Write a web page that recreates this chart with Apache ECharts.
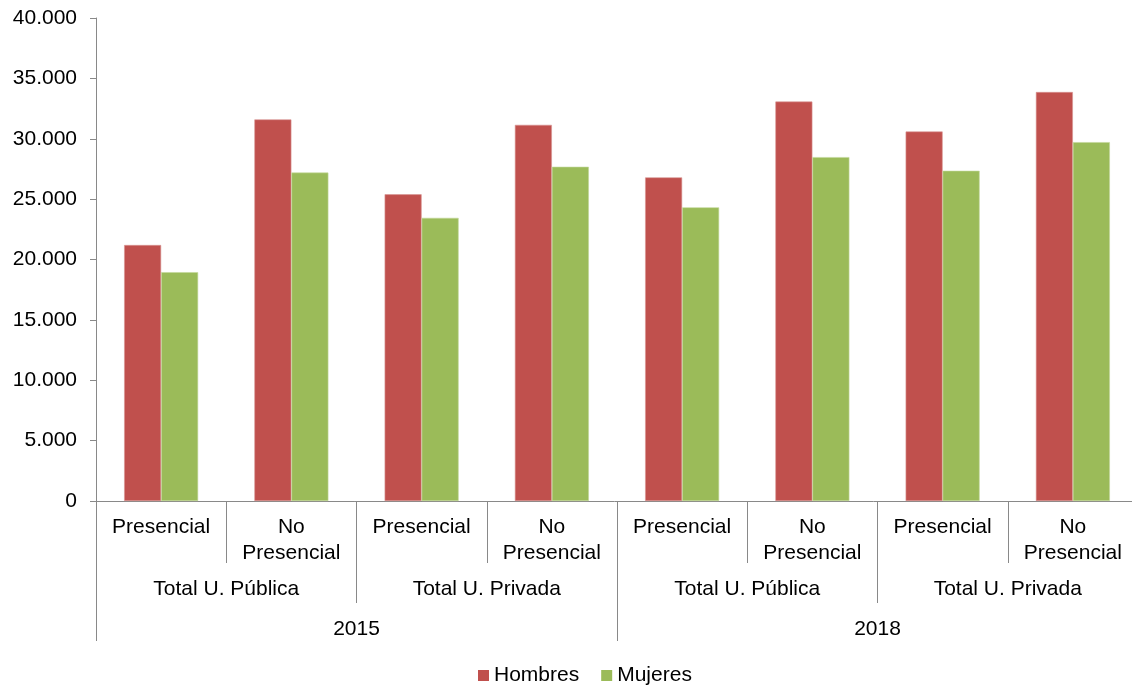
<!DOCTYPE html>
<html>
<head>
<meta charset="utf-8">
<script src="https://cdn.jsdelivr.net/npm/echarts@6/dist/echarts.min.js"></script>
<style>
html,body{margin:0;padding:0;background:#fff;}
#chart{width:1132px;height:687px;}
</style>
</head>
<body>
<div id="chart"></div>
<script>
// Data
const modalidades = ['Presencial', 'No\nPresencial', 'Presencial', 'No\nPresencial', 'Presencial', 'No\nPresencial', 'Presencial', 'No\nPresencial'];
const tiposUniversidad = ['Total U. Pública', 'Total U. Privada', 'Total U. Pública', 'Total U. Privada'];
const anios = ['2015', '2018'];
const hombres = [21200, 31600, 25400, 31150, 26800, 33080, 30600, 33870];
const mujeres = [18950, 27200, 23450, 27680, 24320, 28480, 27350, 29720];

const FONT = '"Liberation Sans", Arial, sans-serif';
const AXIS_COLOR = '#898989';
const FS = 21;
const fmt = v => String(v).replace(/\B(?=(\d{3})+(?!\d))/g, '.');

const chart = echarts.init(document.getElementById('chart'), null, {renderer: 'canvas'});
chart.setOption({
  animation: false,
  textStyle: {fontFamily: FONT},
  grid: {left: 96, top: 18, right: -6, bottom: 186, containLabel: false, outerBoundsMode: 'none'},
  legend: {
    data: ['Hombres', 'Mujeres'],
    left: 478,
    top: 665,
    padding: 0,
    icon: 'rect',
    itemWidth: 11,
    itemHeight: 11,
    itemGap: 22,
    itemStyle: {borderWidth: 0},
    textStyle: {fontSize: FS, lineHeight: 21, color: '#000', fontFamily: FONT}
  },
  xAxis: [
    {
      type: 'category', gridIndex: 0, position: 'bottom', data: modalidades,
      axisLine: {show: true, lineStyle: {color: AXIS_COLOR, width: 1}},
      axisTick: {show: true, length: 62, interval: 0, lineStyle: {color: AXIS_COLOR}},
      axisLabel: {interval: 0, margin: 13, fontSize: FS, lineHeight: 26, color: '#000', fontFamily: FONT, align: 'center'}
    },
    {
      type: 'category', gridIndex: 0, position: 'bottom', offset: 62, data: tiposUniversidad,
      axisLine: {show: false},
      axisTick: {show: true, length: 40, interval: 0, lineStyle: {color: AXIS_COLOR}},
      axisLabel: {interval: 0, margin: 15, fontSize: FS, lineHeight: 23, color: '#000', fontFamily: FONT}
    },
    {
      type: 'category', gridIndex: 0, position: 'bottom', offset: 102, data: anios,
      axisLine: {show: false},
      axisTick: {show: true, length: 38, interval: 0, lineStyle: {color: AXIS_COLOR}},
      axisLabel: {interval: 0, margin: 15, fontSize: FS, lineHeight: 23, color: '#000', fontFamily: FONT}
    }
  ],
  yAxis: {
    type: 'value', min: 0, max: 40000, interval: 5000,
    axisLine: {show: true, lineStyle: {color: AXIS_COLOR, width: 1}},
    axisTick: {show: true, length: 6, lineStyle: {color: AXIS_COLOR}},
    splitLine: {show: false},
    axisLabel: {formatter: fmt, fontSize: FS, color: '#000', margin: 19, fontFamily: FONT}
  },
  series: [
    {
      name: 'Hombres', type: 'bar', xAxisIndex: 0, data: hombres,
      barWidth: 37, barGap: '0%',
      itemStyle: {color: '#C0504D', borderColor: '#D99594', borderWidth: 0.6}
    },
    {
      name: 'Mujeres', type: 'bar', xAxisIndex: 0, data: mujeres,
      barWidth: 37, barGap: '0%',
      itemStyle: {color: '#9BBB59', borderColor: '#C3D69B', borderWidth: 0.6}
    }
  ]
});
</script>
</body>
</html>
